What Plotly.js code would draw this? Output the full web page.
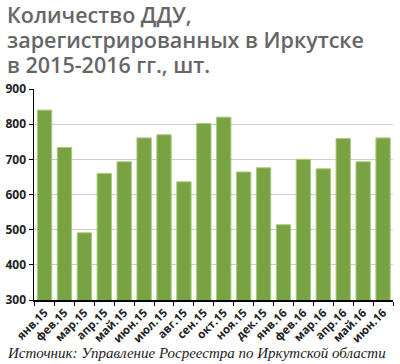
<!DOCTYPE html>
<html><head><meta charset="utf-8">
<script src="https://cdn.plot.ly/plotly-3.0.1.min.js"></script>
<style>body{margin:0;background:#fff}#c{width:400px;height:364px}</style>
</head><body><div id="c"></div>
<script>
const months = ['янв.15','фев.15','мар.15','апр.15','май.15','июн.15','июл.15','авг.15','сен.15','окт.15','ноя.15','дек.15','янв.16','фев.16','мар.16','апр.16','май.16','июн.16'];
const counts = [840, 734, 491, 660, 693, 761, 770, 636, 802, 820, 664, 676, 514, 700, 673, 759, 693, 761];
const yTicks = [300, 400, 500, 600, 700, 800, 900];
const titleLines = ['Количество ДДУ,', 'зарегистрированных в Иркутске', 'в 2015-2016 гг., шт.'];
const sourceText = 'Источник: Управление Росреестра по Иркутской области';

const trace = {
  type: 'bar', x: months, y: counts,
  marker: {color: '#79a342', line: {color: '#a9c97f', width: 1}},
  hoverinfo: 'none'
};
const titleY = [1.352, 1.233, 1.114];
const annotations = titleLines.map((t, i) => ({
  text: t,
  xref: 'paper', yref: 'paper', x: -0.08, y: titleY[i], xanchor: 'left', yanchor: 'middle',
  align: 'left', showarrow: false,
  font: {family: 'Open Sans, sans-serif', size: 21.5, color: '#666', weight: 600}
}));
annotations.push({
  text: '<i>' + sourceText + '</i>',
  xref: 'paper', yref: 'paper', x: -0.082, y: -0.205, xanchor: 'left', yanchor: 'top',
  showarrow: false,
  font: {family: 'Liberation Serif, Times New Roman, serif', size: 15, color: '#222'}
});
const layout = {
  width: 400, height: 364,
  margin: {l: 34, r: 7, t: 89, b: 64},
  paper_bgcolor: '#fff', plot_bgcolor: '#fff',
  bargap: 0.28,
  showlegend: false,
  font: {family: 'Open Sans, sans-serif', color: '#222'},
  xaxis: {
    type: 'category', range: [-0.53, 17.5],
    tickangle: -45, ticks: 'outside', ticklen: 4, tickcolor: '#000', tickson: 'boundaries',
    showline: true, linecolor: '#000', linewidth: 1.5,
    tickfont: {family: 'Open Sans, sans-serif', size: 11.5, color: '#222', weight: 'bold'}, showgrid: false
  },
  yaxis: {
    range: [300, 900], tickvals: yTicks, ticks: 'outside', ticklen: 4, tickcolor: '#000',
    showline: true, linecolor: '#000', linewidth: 1.5,
    showgrid: true, gridcolor: '#d0d0d0', gridwidth: 1.2, zeroline: false,
    tickfont: {family: 'Open Sans, sans-serif', size: 12, color: '#222', weight: 'bold'}
  },
  annotations: annotations
};
Plotly.newPlot('c', [trace], layout, {staticPlot: true});
</script></body></html>
